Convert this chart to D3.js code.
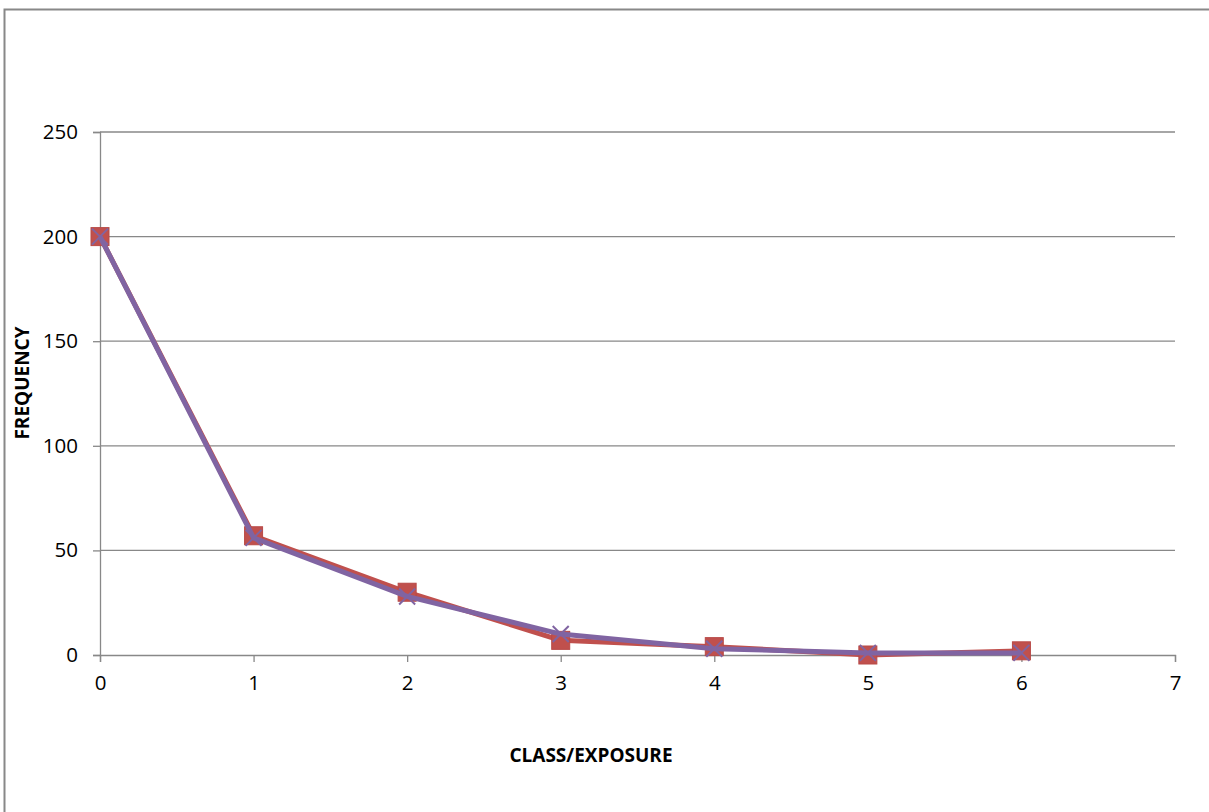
<!DOCTYPE html>
<html>
<head>
<meta charset="utf-8">
<script src="https://cdn.jsdelivr.net/npm/d3@7"></script>
<style>
  body { margin: 0; background: #fff; }
  text { font-family: "Open Sans", "Liberation Sans", sans-serif; }
</style>
</head>
<body>
<script>
// chart values
var classes = [0, 1, 2, 3, 4, 5, 6];
var observed = [200, 57, 30, 7, 4, 0, 2];
var expected = [200, 56, 28, 10, 3, 1, 1];
var yTicks = [0, 50, 100, 150, 200, 250];
var xTicks = [0, 1, 2, 3, 4, 5, 6, 7];

var w = 1209, h = 812;

var svg = d3.select("body").append("svg")
    .attr("width", w)
    .attr("height", h);

// outer chart border (runs off the right and bottom)
svg.append("rect")
    .attr("x", 4.5).attr("y", 9.5)
    .attr("width", 1220).attr("height", 820)
    .attr("fill", "none")
    .attr("stroke", "#888").attr("stroke-width", 2);

var xScale = d3.scaleLinear().domain([0, 7]).range([100, 1175]);
var yScale = d3.scaleLinear().domain([0, 250]).range([655, 132]);

// gridlines
svg.append("g").selectAll("line")
    .data(yTicks.filter(function(d){ return d > 0; }))
    .enter().append("line")
    .attr("x1", xScale(0)).attr("x2", xScale(7))
    .attr("y1", function(d){ return yScale(d); })
    .attr("y2", function(d){ return yScale(d); })
    .attr("stroke", "#888").attr("stroke-width", 1.3);

// y axis
var yAxis = d3.axisLeft(yScale).tickValues(yTicks).tickFormat(d3.format("d"))
    .tickSize(7).tickPadding(15);
var gy = svg.append("g")
    .attr("transform", "translate(" + xScale(0) + ",0)")
    .call(yAxis);

// x axis
var xAxis = d3.axisBottom(xScale).tickValues(xTicks).tickFormat(d3.format("d"))
    .tickSize(7).tickPadding(13);
var gx = svg.append("g")
    .attr("transform", "translate(0," + yScale(0) + ")")
    .call(xAxis);

[gx, gy].forEach(function(g){
    g.attr("font-size", null);
    g.select(".domain").attr("stroke", "#888").attr("stroke-width", 1.3);
    g.selectAll(".tick line").attr("stroke", "#888").attr("stroke-width", 1.3);
    g.selectAll(".tick text")
        .attr("fill", "#000")
        .style("font-size", "20.5px")
        .style("font-family", "'Open Sans', 'Liberation Sans', sans-serif");
});

// axis titles
svg.append("text")
    .attr("x", 591).attr("y", 762)
    .attr("text-anchor", "middle")
    .attr("font-size", "19px").attr("font-weight", "bold")
    .text("CLASS/EXPOSURE");

svg.append("text")
    .attr("transform", "translate(29,383) rotate(-90)")
    .attr("text-anchor", "middle")
    .attr("font-size", "19px").attr("font-weight", "bold")
    .text("FREQUENCY");

var line = d3.line()
    .x(function(d, i){ return xScale(classes[i]); })
    .y(function(d){ return yScale(d); });

// observed series: red line with squares
svg.append("path")
    .datum(observed)
    .attr("d", line)
    .attr("fill", "none")
    .attr("stroke", "#C0504D").attr("stroke-width", 5)
    .attr("stroke-linejoin", "round");

svg.append("g").selectAll("rect")
    .data(observed)
    .enter().append("rect")
    .attr("x", function(d, i){ return xScale(classes[i]) - 9; })
    .attr("y", function(d){ return yScale(d) - 9; })
    .attr("width", 18).attr("height", 18)
    .attr("fill", "#C0504D")
    .attr("stroke", "#B84A47").attr("stroke-width", 1);

// expected series: purple line with x marks
svg.append("path")
    .datum(expected)
    .attr("d", line)
    .attr("fill", "none")
    .attr("stroke", "#8064A2").attr("stroke-width", 5)
    .attr("stroke-linejoin", "round");

svg.append("g").selectAll("path")
    .data(expected)
    .enter().append("path")
    .attr("d", function(d, i){
        var cx = xScale(classes[i]), cy = yScale(d), s = 8;
        return "M" + (cx - s) + "," + (cy - s) + "L" + (cx + s) + "," + (cy + s) +
               "M" + (cx - s) + "," + (cy + s) + "L" + (cx + s) + "," + (cy - s);
    })
    .attr("stroke", "#8064A2").attr("stroke-width", 2)
    .attr("fill", "none");
</script>
</body>
</html>
